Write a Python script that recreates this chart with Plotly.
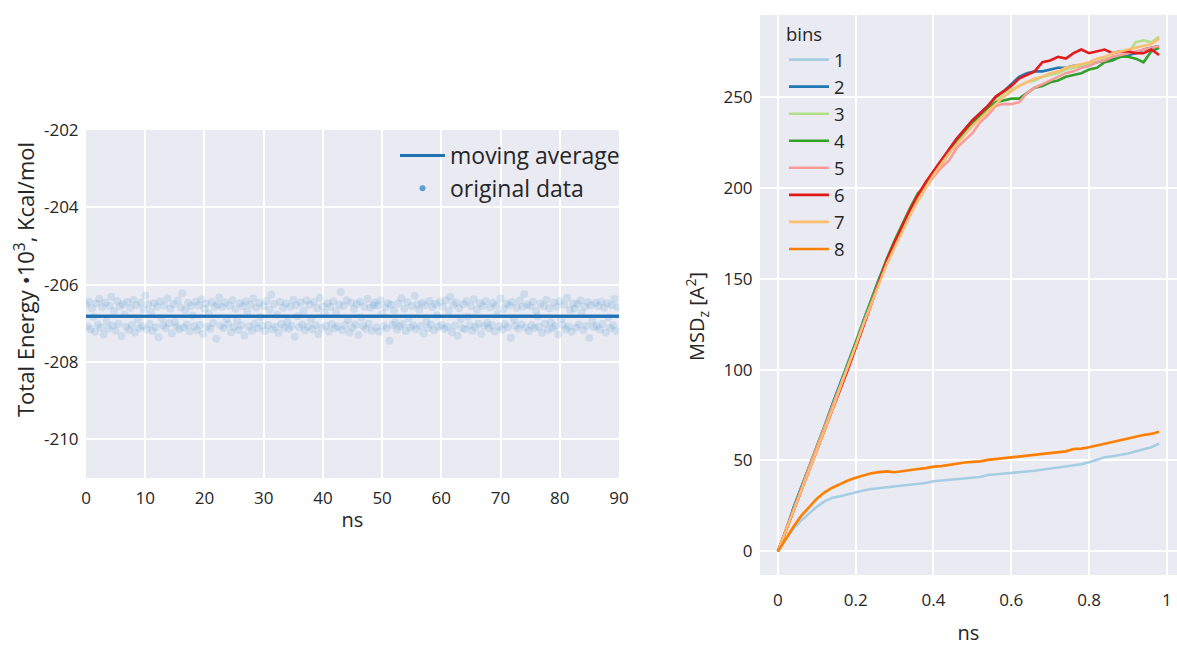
import numpy as np
import plotly.graph_objects as go

# ---------------- Left panel data ----------------
energy_samples = [
    -206.52, -207.08, -206.44, -207.15, -206.61, -206.83, -207.22, -206.49, -207.03, -206.37, -207.11, -206.58, -207.29, -206.47, -206.95,
    -207.14, -206.55, -206.31, -207.06, -206.68, -207.19, -206.42, -207.01, -206.56, -207.33, -206.50, -206.77, -207.09, -206.45, -207.17,
    -206.60, -207.04, -206.39, -207.24, -206.53, -206.90, -207.12, -206.46, -207.07, -206.64, -206.28, -207.16, -206.51, -207.02, -206.71,
    -207.20, -206.48, -207.10, -206.57, -207.36, -206.43, -206.86, -207.05, -206.54, -207.13, -206.35, -207.00, -206.62, -207.26, -206.50,
    -206.97, -207.08, -206.41, -207.15, -206.59, -206.22, -207.11, -206.66, -207.03, -206.47, -207.21, -206.55, -206.80, -207.07, -206.44,
    -207.18, -206.53, -207.04, -206.38, -207.27, -206.62, -206.49, -207.09, -206.74, -207.14, -206.45, -206.99, -206.57, -207.40, -206.51,
    -206.33, -207.06, -206.58, -207.12, -206.46, -206.88, -207.02, -206.54, -207.23, -206.40, -207.10, -206.63, -206.93, -207.17, -206.48,
    -207.05, -206.56, -207.31, -206.43, -206.70, -207.08, -206.52, -207.19, -206.36, -207.01, -206.59, -207.13, -206.47, -206.84, -207.06,
    -206.55, -207.20, -206.42, -207.04, -206.65, -206.26, -207.15, -206.50, -207.09, -206.78, -207.25, -206.44, -207.02, -206.60, -207.11,
    -206.49, -206.96, -207.14, -206.57, -207.07, -206.39, -207.35, -206.53, -206.81, -207.10, -206.46, -207.03, -206.67, -207.18, -206.41,
    -207.09, -206.52, -206.89, -207.16, -206.45, -207.04, -206.61, -207.28, -206.34, -207.12, -206.56, -206.73, -207.06, -206.48, -207.21,
    -206.58, -207.02, -206.43, -207.13, -206.69, -207.08, -206.51, -206.19, -207.17, -206.55, -207.05, -206.40, -206.92, -207.24, -206.47,
    -207.11, -206.63, -207.03, -206.50, -207.30, -206.44, -206.85, -207.07, -206.57, -207.14, -206.37, -207.01, -206.60, -207.19, -206.53,
    -206.46, -207.10, -206.54, -207.22, -206.41, -206.76, -207.06, -206.59, -207.13, -206.48, -207.45, -206.52, -207.04, -206.66, -206.98,
    -207.16, -206.49, -207.08, -206.35, -207.02, -206.62, -207.20, -206.45, -206.87, -207.11, -206.56, -207.05, -206.29, -207.15, -206.51,
    -206.64, -207.07, -206.47, -207.26, -206.53, -206.94, -207.12, -206.42, -207.03, -206.58, -207.18, -206.50, -206.79, -207.09, -206.44,
    -207.04, -206.57, -207.14, -206.40, -207.09, -206.68, -206.31, -207.23, -206.52, -207.06, -206.46, -207.32, -206.61, -206.90, -207.12,
    -206.50, -207.15, -206.43, -206.83, -207.05, -206.56, -207.19, -206.38, -207.10, -206.65, -207.01, -206.48, -207.27, -206.55, -207.07,
    -206.42, -206.99, -207.13, -206.59, -207.04, -206.47, -207.21, -206.54, -206.75, -207.08, -206.36, -207.16, -206.63, -207.02, -206.49,
    -207.10, -206.53, -207.37, -206.45, -206.91, -207.06, -206.60, -207.14, -206.41, -207.03, -206.57, -206.24, -207.11, -206.51, -207.20,
    -206.56, -207.05, -206.44, -207.12, -206.67, -206.82, -207.09, -206.49, -207.25, -206.55, -207.01, -206.39, -207.17, -206.61, -206.97,
    -207.13, -206.46, -207.07, -206.58, -207.29, -206.43, -206.88, -207.04, -206.52, -207.15, -206.34, -207.08, -206.65, -207.22, -206.48,
    -206.62, -207.11, -206.50, -207.03, -206.41, -206.72, -207.18, -206.57, -207.06, -206.45, -207.38, -206.54, -206.93, -207.10, -206.47,
    -207.07, -206.55, -207.16, -206.44, -207.02, -206.60, -207.24, -206.48, -206.85, -207.12, -206.53, -207.05, -206.37, -207.19, -206.58,
]
energy_ns = np.arange(len(energy_samples)) * 0.25

avg_ns = [0, 10, 20, 30, 40, 50, 60, 70, 80, 90]
moving_average = [-206.82, -206.82, -206.82, -206.82, -206.82, -206.82, -206.82, -206.82, -206.82, -206.82]

energy_yticks = [-202, -204, -206, -208, -210]
energy_yticklabels = ["-202", "-204", "-206", "-208", "-210"]
energy_xticks = [0, 10, 20, 30, 40, 50, 60, 70, 80, 90]

# ---------------- Right panel data ----------------
msd_ns = np.round(np.arange(50) * 0.02, 2)

bin_names = ["1", "2", "3", "4", "5", "6", "7", "8"]
bin_colors = ["#a6cee3", "#1f78b4", "#b2df8a", "#33a02c", "#fb9a99", "#e31a1c", "#fdbf6f", "#ff7f00"]

msd_bin1 = [0, 6.5, 12.5, 17, 21, 24.5, 27.5, 29.5, 30.3, 31.5, 32.5, 33.5, 34.3, 34.8, 35.3, 35.7, 36.5,
            36.8, 37.4, 37.6, 38.6, 39.0, 39.2, 39.6, 40.1, 40.4, 40.9, 42.0, 42.3, 42.6, 43.0, 43.4, 43.9,
            44.3, 44.9, 45.4, 45.8, 46.6, 47.0, 47.9, 49.0, 50.5, 51.8, 52.3, 53.0, 53.8, 55.0, 56.2, 57.3, 59.3]
msd_bin2 = [0, 11, 24, 35, 47, 58, 69, 81, 92, 104, 115, 127, 139, 150, 160, 170, 178, 187, 195, 202,
            209, 215, 221, 227, 232, 237, 241, 245, 250, 253, 257, 261, 263, 264, 264, 265, 266, 266, 267, 267,
            268, 269, 270, 271, 272, 273, 274, 276, 277, 278]
msd_bin3 = [0, 11, 23, 34, 46, 57, 68, 80, 91, 103, 114, 126, 138, 149, 159, 169, 178, 186, 194, 201,
            208, 214, 220, 226, 230, 235, 239, 243, 248, 252, 254, 256, 258, 259, 261, 262, 263, 265, 266, 267,
            268, 269, 271, 272, 273, 274, 280, 281, 280, 283]
msd_bin4 = [0, 11, 23, 34, 46, 57, 68, 80, 91, 103, 114, 126, 138, 150, 161, 171, 180, 189, 197, 201,
            207, 213, 219, 225, 231, 235, 240, 244, 247, 248, 249, 249, 252, 255, 256, 258, 259, 261, 262, 263,
            265, 266, 269, 270, 272, 272, 271, 269, 275, 277]
msd_bin5 = [0, 11, 23, 34, 46, 57, 68, 79, 90, 102, 113, 125, 137, 148, 158, 168, 177, 185, 193, 200,
            206, 211, 215, 222, 226, 230, 236, 240, 245, 246, 246, 247, 252, 255, 257, 259, 261, 263, 264, 266,
            267, 269, 270, 272, 273, 274, 275, 276, 277, 278]
msd_bin6 = [0, 11, 22, 33, 44, 55, 66, 77, 88, 100, 112, 124, 137, 149, 160, 170, 179, 188, 196, 203,
            209, 215, 221, 227, 232, 237, 241, 245, 250, 253, 256, 260, 262, 264, 269, 270, 272, 271, 274, 276,
            274, 275, 276, 274, 275, 275, 274, 274, 276, 273]
msd_bin7 = [0, 11, 22, 33, 45, 56, 67, 78, 90, 101, 113, 125, 136, 148, 158, 167, 176, 185, 193, 200,
            207, 213, 219, 224, 229, 234, 238, 242, 246, 250, 253, 256, 258, 260, 261, 263, 264, 266, 267, 268,
            269, 271, 272, 274, 275, 276, 277, 278, 279, 282]
msd_bin8 = [0, 7, 13.5, 19.5, 24.5, 29, 32.5, 35, 37, 39, 40.5, 41.8, 43, 43.6, 44, 43.5, 44.2, 44.8,
            45.3, 45.8, 46.6, 46.9, 47.6, 48.0, 48.9, 49.2, 49.5, 50.3, 50.8, 51.0, 51.6, 52.3, 52.8, 53.1,
            53.5, 54.0, 54.4, 55.0, 56.3, 56.5, 57.3, 58.3, 59.1, 59.9, 61.2, 62.1, 63.2, 64.0, 64.6, 65.8]
msd_series = [msd_bin1, msd_bin2, msd_bin3, msd_bin4, msd_bin5, msd_bin6, msd_bin7, msd_bin8]

msd_xticks = [0, 0.2, 0.4, 0.6, 0.8, 1]
msd_xticklabels = ["0", "0.2", "0.4", "0.6", "0.8", "1"]
msd_yticks = [0, 50, 100, 150, 200, 250]

# ---------------- Figure ----------------
FONT = "Open Sans"
TXT = "#262626"
BG = "#eaeaf2"
DOT = "#5b9fd0"

fig = go.Figure()

fig.add_trace(go.Scatter(
    x=avg_ns, y=moving_average, mode="lines", name="moving average",
    line=dict(color="#2171b5", width=3),
    xaxis="x", yaxis="y", legend="legend", legendrank=1,
))
fig.add_trace(go.Scatter(
    x=energy_ns, y=energy_samples, mode="markers", name="original data",
    marker=dict(size=8, color=DOT, opacity=0.2, line=dict(width=0)),
    xaxis="x", yaxis="y", showlegend=False,
))
# legend entry for the scatter (drawn with a solid dot as in the reference)
fig.add_trace(go.Scatter(
    x=[None], y=[None], mode="markers", name="original data",
    marker=dict(size=6, color=DOT),
    xaxis="x", yaxis="y", legend="legend", legendrank=2,
))
# redraw the average line on top of the dots
fig.add_trace(go.Scatter(
    x=avg_ns, y=moving_average, mode="lines", name="moving average",
    line=dict(color="#2171b5", width=3), showlegend=False,
    xaxis="x", yaxis="y",
))

for name, color, vals in zip(bin_names, bin_colors, msd_series):
    fig.add_trace(go.Scatter(
        x=msd_ns, y=vals, mode="lines", name=name,
        line=dict(color=color, width=2.6),
        xaxis="x2", yaxis="y2", legend="legend2",
    ))

W, H = 1177, 646
axis_common = dict(
    showgrid=True, gridcolor="white", gridwidth=2, zeroline=False,
    showline=False, ticks="outside", tickcolor="rgba(0,0,0,0)",
    tickfont=dict(family=FONT, size=17, color=TXT), automargin=False,
)

fig.update_layout(
    template="none",
    width=W, height=H,
    margin=dict(l=0, r=0, t=0, b=0),
    paper_bgcolor="white", plot_bgcolor=BG,
    font=dict(family=FONT, color=TXT),
    xaxis=dict(
        domain=[86 / W, 619 / W], range=[0, 90], anchor="y",
        tickvals=energy_xticks, ticklen=5,
        title=dict(text="ns", font=dict(family=FONT, size=20, color=TXT), standoff=4),
        **axis_common,
    ),
    yaxis=dict(
        domain=[1 - 478 / H, 1 - 130 / H], range=[-211, -202], anchor="x",
        tickvals=energy_yticks, ticktext=energy_yticklabels, ticklen=3,
        **axis_common,
    ),
    xaxis2=dict(
        domain=[760 / W, 1.0], range=[-0.046, 1.026], anchor="y2",
        tickvals=msd_xticks, ticktext=msd_xticklabels, ticklen=10,
        title=dict(text="ns", font=dict(family=FONT, size=20, color=TXT), standoff=16),
        **axis_common,
    ),
    yaxis2=dict(
        domain=[1 - 575 / H, 1 - 15 / H], range=[-13, 295], anchor="x2",
        tickvals=msd_yticks, ticklen=3,
        **axis_common,
    ),
    legend=dict(
        x=625 / W, xanchor="right", y=1 - 134 / H, yanchor="top",
        bgcolor="rgba(0,0,0,0)", font=dict(family=FONT, size=23, color=TXT),
        itemwidth=45,
    ),
    legend2=dict(
        x=784 / W, xanchor="left", y=1 - 17 / H, yanchor="top",
        bgcolor="rgba(0,0,0,0)", font=dict(family=FONT, size=18.5, color=TXT),
        title=dict(text="bins", font=dict(family=FONT, size=18.5, color=TXT)),
        itemwidth=40,
    ),
    showlegend=True,
    annotations=[
        dict(text="Total Energy •10<sup>3</sup>, Kcal/mol", xref="paper", yref="paper",
             x=24 / W, y=1 - 280 / H, textangle=-90, showarrow=False,
             xanchor="center", yanchor="middle",
             font=dict(family=FONT, size=22, color=TXT)),
        dict(text="MSD<sub>z</sub> [A<sup>2</sup>]", xref="paper", yref="paper",
             x=697 / W, y=1 - 317 / H, textangle=-90, showarrow=False,
             xanchor="center", yanchor="middle",
             font=dict(family=FONT, size=20, color=TXT)),
    ],
)

fig.write_html(
    "out.html",
    config={"displayModeBar": False},
    post_script="document.body.style.margin='0px';document.body.style.overflow='hidden';",
)
